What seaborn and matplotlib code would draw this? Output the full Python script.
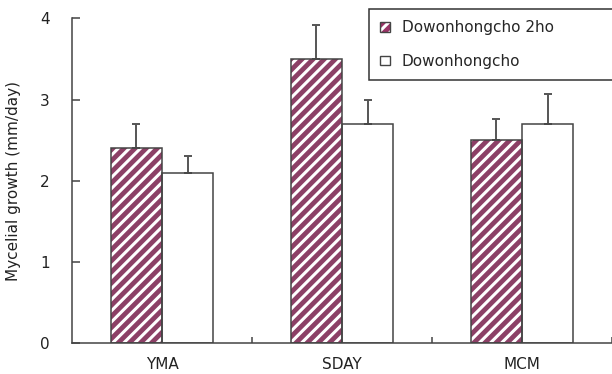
import pandas as pd
import numpy as np
import matplotlib
matplotlib.use('Agg')
import matplotlib.pyplot as plt
import seaborn as sns
from matplotlib.patches import Rectangle, Patch

# Data
media = ['YMA', 'SDAY', 'MCM']
strains = ['Dowonhongcho 2ho', 'Dowonhongcho']
growth_2ho = [2.4, 3.5, 2.5]
err_2ho = [0.3, 0.42, 0.26]
growth_plain = [2.1, 2.7, 2.7]
err_plain = [0.2, 0.29, 0.37]

df = pd.DataFrame({
    'medium': media * 2,
    'strain': [strains[0]] * 3 + [strains[1]] * 3,
    'growth': growth_2ho + growth_plain,
    'err': err_2ho + err_plain,
})

sns.set_style('white')
plt.rcParams['font.family'] = ['DejaVu Sans']
plt.rcParams['hatch.linewidth'] = 2.2

maroon = '#993366'
edge = '#444444'

fig = plt.figure(figsize=(6.12, 3.74), dpi=100)
ax = fig.add_axes([72 / 612, 1 - 343.3 / 374, 1 - 72 / 612, (343.3 - 18.3) / 374])

sns.barplot(data=df, x='medium', y='growth', hue='strain', order=media,
            hue_order=strains, palette=[maroon, 'white'], width=0.57,
            errorbar=None, legend=False, ax=ax)

# bars are ordered by hue then category
patches = list(ax.patches)
for i, p in enumerate(patches):
    p.set_linewidth(0)
    if i < 3:
        p.set_hatch('///')
        p.set_edgecolor('white')
    # outline drawn separately so the hatch can stay white
    ax.add_patch(Rectangle((p.get_x(), p.get_y()), p.get_width(), p.get_height(),
                           facecolor='none', edgecolor=edge, linewidth=1.1, zorder=3))

xs = [p.get_x() + p.get_width() / 2 for p in patches]
ys = [p.get_height() for p in patches]
errs = list(df['err'])
ax.errorbar(xs, ys, yerr=[np.zeros(len(errs)), errs], fmt='none',
            ecolor='#555555', elinewidth=1.4, capsize=3, capthick=1.4, zorder=2)

ax.set_xlim(-0.5, 2.5)
ax.set_ylim(0, 4)
ax.set_yticks([0, 1, 2, 3, 4])
ax.set_xlabel('')
ax.set_ylabel('Mycelial growth (mm/day)', fontsize=11, color='#222222', labelpad=14)

for s in ['top', 'right']:
    ax.spines[s].set_visible(False)
for s in ['left', 'bottom']:
    ax.spines[s].set_color(edge)
    ax.spines[s].set_linewidth(1.1)

ax.tick_params(axis='y', direction='in', length=6, width=1.1, color=edge,
               pad=16, labelsize=11, labelcolor='#222222', left=True)
ax.tick_params(axis='x', which='major', length=0, pad=10, labelsize=11,
               labelcolor='#222222')
ax.set_xticks([0.5, 1.5, 2.5], minor=True)
ax.tick_params(axis='x', which='minor', direction='in', length=4, width=1.1,
               color=edge, bottom=True)

# legend handles: white-striped square with a dark outline on top
hatched = (Patch(facecolor=maroon, edgecolor='white', hatch='///', linewidth=0),
           Patch(facecolor='none', edgecolor=edge, linewidth=1))
plain = Patch(facecolor='white', edgecolor=edge, linewidth=1)
leg = ax.legend([hatched, plain], strains, loc='upper left',
                bbox_to_anchor=(369 / 612, 1 - 9 / 374, 0.42, 0.0),
                bbox_transform=fig.transFigure, mode='expand',
                fontsize=11, frameon=True, fancybox=False, framealpha=1,
                handlelength=0.6, handleheight=0.6, handletextpad=0.8,
                labelspacing=1.2, borderpad=0.75, borderaxespad=0)
leg.get_frame().set_edgecolor('#333333')
leg.get_frame().set_linewidth(1.1)

fig.savefig('out.png', dpi=100)
